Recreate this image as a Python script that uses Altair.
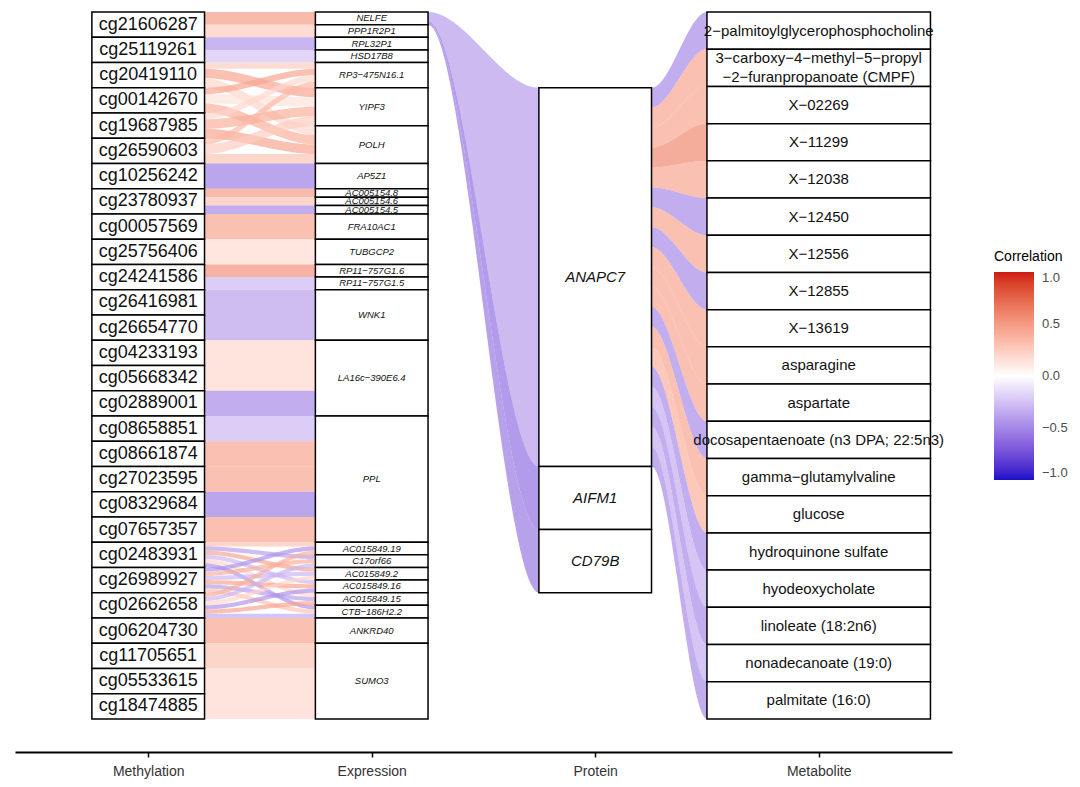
import altair as alt
import numpy as np
import pandas as pd

# ---------------- data ----------------
methylation = ["cg21606287", "cg25119261", "cg20419110", "cg00142670", "cg19687985",
               "cg26590603", "cg10256242", "cg23780937", "cg00057569", "cg25756406",
               "cg24241586", "cg26416981", "cg26654770", "cg04233193", "cg05668342",
               "cg02889001", "cg08658851", "cg08661874", "cg27023595", "cg08329684",
               "cg07657357", "cg02483931", "cg26989927", "cg02662658", "cg06204730",
               "cg11705651", "cg05533615", "cg18474885"]

expression = ["NELFE", "PPP1R2P1", "RPL32P1", "HSD17B8", "RP3−475N16.1", "YIPF3", "POLH",
              "AP5Z1", "AC005154.8", "AC005154.6", "AC005154.5", "FRA10AC1", "TUBGCP2",
              "RP11−757G1.6", "RP11−757G1.5", "WNK1", "LA16c−390E6.4", "PPL",
              "AC015849.19", "C17orf66", "AC015849.2", "AC015849.16", "AC015849.15",
              "CTB−186H2.2", "ANKRD40", "SUMO3"]

protein = ["ANAPC7", "AIFM1", "CD79B"]
protein_weight = [6, 1, 1]

metabolite = ["2−palmitoylglycerophosphocholine",
              "3−carboxy−4−methyl−5−propyl\n−2−furanpropanoate (CMPF)",
              "X−02269", "X−11299", "X−12038", "X−12450", "X−12556", "X−12855", "X−13619",
              "asparagine", "aspartate", "docosapentaenoate (n3 DPA; 22:5n3)",
              "gamma−glutamylvaline", "glucose", "hydroquinone sulfate", "hyodeoxycholate",
              "linoleate (18:2n6)", "nonadecanoate (19:0)", "palmitate (16:0)"]

axis_labels = ["Methylation", "Expression", "Protein", "Metabolite"]

# methylation -> expression links
me_source = ["cg21606287", "cg21606287", "cg25119261", "cg25119261",
             "cg20419110", "cg20419110", "cg20419110",
             "cg00142670", "cg00142670", "cg00142670",
             "cg19687985", "cg19687985", "cg19687985",
             "cg26590603", "cg26590603", "cg26590603",
             "cg10256242", "cg23780937", "cg23780937", "cg23780937",
             "cg00057569", "cg25756406", "cg24241586", "cg24241586",
             "cg26416981", "cg26654770",
             "cg04233193", "cg05668342", "cg02889001",
             "cg08658851", "cg08661874", "cg27023595", "cg08329684", "cg07657357",
             "cg02483931", "cg02483931", "cg02483931", "cg02483931", "cg02483931", "cg02483931",
             "cg26989927", "cg26989927", "cg26989927", "cg26989927", "cg26989927", "cg26989927",
             "cg02662658", "cg02662658", "cg02662658", "cg02662658", "cg02662658", "cg02662658",
             "cg06204730", "cg11705651", "cg05533615", "cg18474885"]
me_target = ["NELFE", "PPP1R2P1", "RPL32P1", "HSD17B8",
             "RP3−475N16.1", "YIPF3", "POLH",
             "RP3−475N16.1", "YIPF3", "POLH",
             "RP3−475N16.1", "YIPF3", "POLH",
             "RP3−475N16.1", "YIPF3", "POLH",
             "AP5Z1", "AC005154.8", "AC005154.6", "AC005154.5",
             "FRA10AC1", "TUBGCP2", "RP11−757G1.6", "RP11−757G1.5",
             "WNK1", "WNK1",
             "LA16c−390E6.4", "LA16c−390E6.4", "LA16c−390E6.4",
             "PPL", "PPL", "PPL", "PPL", "PPL",
             "AC015849.19", "C17orf66", "AC015849.2", "AC015849.16", "AC015849.15", "CTB−186H2.2",
             "AC015849.19", "C17orf66", "AC015849.2", "AC015849.16", "AC015849.15", "CTB−186H2.2",
             "AC015849.19", "C17orf66", "AC015849.2", "AC015849.16", "AC015849.15", "CTB−186H2.2",
             "ANKRD40", "SUMO3", "SUMO3", "SUMO3"]
me_weight = [0.5, 0.5, 0.5, 0.5,
             0.25, 0.375, 0.375,
             0.25, 0.375, 0.375,
             0.25, 0.375, 0.375,
             0.25, 0.375, 0.375,
             1, 1 / 3, 1 / 3, 1 / 3,
             1, 1, 0.5, 0.5,
             1, 1,
             1, 1, 1,
             1, 1, 1, 1, 1,
             1 / 6, 1 / 6, 1 / 6, 1 / 6, 1 / 6, 1 / 6,
             1 / 6, 1 / 6, 1 / 6, 1 / 6, 1 / 6, 1 / 6,
             1 / 6, 1 / 6, 1 / 6, 1 / 6, 1 / 6, 1 / 6,
             1, 1, 1, 1]
me_corr = [0.50, 0.25, -0.45, -0.25,
           0.25, 0.45, 0.20,
           0.45, 0.15, 0.40,
           0.20, 0.40, 0.45,
           0.35, 0.25, 0.30,
           -0.55, 0.50, 0.30, -0.50,
           0.45, 0.18, 0.55, -0.30,
           -0.40, -0.40,
           0.20, 0.20, -0.50,
           -0.30, 0.45, 0.45, -0.55, 0.45,
           0.30, -0.40, 0.45, -0.30, 0.20, -0.45,
           -0.45, 0.40, -0.30, 0.45, -0.40, 0.30,
           0.40, -0.30, 0.20, -0.45, 0.45, -0.35,
           0.45, 0.30, 0.20, 0.20]

# expression -> protein links (NELFE)
ep_source = ["NELFE", "NELFE", "NELFE"]
ep_target = ["ANAPC7", "AIFM1", "CD79B"]
ep_corr = [-0.42, -0.62, -0.58]

# protein -> metabolite links (ANAPC7)
pm_source = ["ANAPC7"] * 19
pm_target = metabolite
pm_corr = [-0.50, 0.45, 0.45, 0.60, 0.45, -0.50, 0.45, -0.50, 0.45, 0.45,
           0.45, -0.50, 0.45, 0.40, -0.50, -0.35, -0.50, -0.35, -0.50]

# ---------------- layout (in axis units) ----------------
TOTAL = len(methylation)
HW = 0.252           # half width of narrow strata
MET_HW = 0.5         # half width of metabolite strata
PROT_TOP = 3.0
PROT_SPAN = 20.0
LINE_GAP = 0.75      # line spacing of wrapped labels, in axis units

meth_pos = {m: (i, i + 1.0) for i, m in enumerate(methylation)}

expr_size = {e: 0.0 for e in expression}
for t, w in zip(me_target, me_weight):
    expr_size[t] += w
expr_pos, c = {}, 0.0
for e in expression:
    expr_pos[e] = (c, c + expr_size[e])
    c += expr_size[e]

prot_pos, c = {}, PROT_TOP
tot_w = sum(protein_weight)
for p, w in zip(protein, protein_weight):
    h = PROT_SPAN * w / tot_w
    prot_pos[p] = (c, c + h)
    c += h

mh = TOTAL / len(metabolite)
met_pos = {m: (j * mh, (j + 1) * mh) for j, m in enumerate(metabolite)}

# stacking of methylation -> expression links
links = list(zip(me_source, me_target, me_weight, me_corr))
left_iv, right_iv = {}, {}
src_off = {m: meth_pos[m][0] for m in methylation}
for k in sorted(range(len(links)), key=lambda k: (methylation.index(links[k][0]), expression.index(links[k][1]))):
    s, t, w, r = links[k]
    left_iv[k] = (src_off[s], src_off[s] + w)
    src_off[s] += w
tgt_off = {e: expr_pos[e][0] for e in expression}
for k in sorted(range(len(links)), key=lambda k: (expression.index(links[k][1]), methylation.index(links[k][0]))):
    s, t, w, r = links[k]
    right_iv[k] = (tgt_off[t], tgt_off[t] + w)
    tgt_off[t] += w

ribbons = []
for k, (s, t, w, r) in enumerate(links):
    ribbons.append((1 + HW, 2 - HW, left_iv[k], right_iv[k], r))

# expression -> protein: NELFE split proportionally to protein weight
for s, t, r in zip(ep_source, ep_target, ep_corr):
    a0, a1 = expr_pos[s]
    idx = protein.index(t)
    f0 = sum(protein_weight[:idx]) / tot_w
    f1 = sum(protein_weight[:idx + 1]) / tot_w
    ribbons.append((2 + HW, 3 - HW, (a0 + (a1 - a0) * f0, a0 + (a1 - a0) * f1), prot_pos[t], r))

# protein -> metabolite: ANAPC7 split equally
n_pm = len(pm_target)
for j, (s, t, r) in enumerate(zip(pm_source, pm_target, pm_corr)):
    a0, a1 = prot_pos[s]
    h = (a1 - a0) / n_pm
    ribbons.append((3 + HW, 4 - MET_HW, (a0 + j * h, a0 + (j + 1) * h), met_pos[t], r))

tt = np.linspace(0, 1, 41)
ss = tt * tt * (3 - 2 * tt)
rows = []
for fid, (x0, x1, (a0, a1), (b0, b1), r) in enumerate(ribbons):
    for t_, s_ in zip(tt, ss):
        rows.append({"id": fid, "x": x0 + (x1 - x0) * t_,
                     "top": a0 + (b0 - a0) * s_, "bot": a1 + (b1 - a1) * s_, "r": r})
flow_df = pd.DataFrame(rows)


def add_label(rows, x, a, b, text, kind):
    parts = text.split("\n")
    n = len(parts)
    for i, p in enumerate(parts):
        rows.append({"x": x, "y": (a + b) / 2 + (i - (n - 1) / 2) * LINE_GAP,
                     "text": p, "kind": kind})


box_rows, lab_rows = [], []
for m, (a, b) in meth_pos.items():
    box_rows.append({"x0": 1 - HW, "x1": 1 + HW, "y0": a, "y1": b})
    add_label(lab_rows, 1, a, b, m, "meth")
for e, (a, b) in expr_pos.items():
    box_rows.append({"x0": 2 - HW, "x1": 2 + HW, "y0": a, "y1": b})
    add_label(lab_rows, 2, a, b, e, "expr")
for p, (a, b) in prot_pos.items():
    box_rows.append({"x0": 3 - HW, "x1": 3 + HW, "y0": a, "y1": b})
    add_label(lab_rows, 3, a, b, p, "prot")
for m, (a, b) in met_pos.items():
    box_rows.append({"x0": 4 - MET_HW, "x1": 4 + MET_HW, "y0": a, "y1": b})
    add_label(lab_rows, 4, a, b, m, "met")
box_df = pd.DataFrame(box_rows)
lab_df = pd.DataFrame(lab_rows)

# ---------------- chart ----------------
FONT = "Liberation Sans"
x_scale = alt.Scale(domain=[0.404, 4.5964], nice=False, zero=False)
y_scale = alt.Scale(domain=[-0.08, 29.31], reverse=True, nice=False, zero=False)
label_expr = "[" + ",".join("'%s'" % s for s in axis_labels) + "][datum.value - 1]"
x_axis = alt.Axis(values=[1, 2, 3, 4], labelExpr=label_expr, title=None, grid=False,
                  domainColor="black", domainWidth=2, tickColor="black", tickWidth=1.5,
                  tickSize=5, labelFontSize=14, labelColor="#333333", labelFont=FONT,
                  labelPadding=7, labelFlush=False)

color_scale = alt.Scale(domain=[-1, 0, 1], range=["#1c0fc9", "#ffffff", "#cf1b12"],
                        interpolate="lab")

flows = alt.Chart(flow_df).mark_area(fillOpacity=0.68, strokeWidth=0).encode(
    x=alt.X("x:Q", scale=x_scale, axis=x_axis),
    y=alt.Y("top:Q", scale=y_scale, axis=None, stack=None),
    y2="bot:Q",
    detail="id:N",
    color=alt.Color("r:Q", scale=color_scale,
                    legend=alt.Legend(title="Correlation", orient="none", direction="vertical",
                                      legendX=979, legendY=240, padding=0,
                                      gradientLength=208, gradientThickness=40,
                                      gradientStrokeWidth=0, values=[-1, -0.5, 0, 0.5, 1],
                                      format=".1f", labelFontSize=13, labelColor="#4d4d4d",
                                      labelFont=FONT, labelOffset=8, titleFontSize=14,
                                      titleFontWeight="normal", titleColor="black",
                                      titleFont=FONT, titlePadding=8)),
)

boxes = alt.Chart(box_df).mark_rect(fill="white", stroke="black", strokeWidth=1.5).encode(
    x=alt.X("x0:Q", scale=x_scale, axis=x_axis),
    x2="x1:Q",
    y=alt.Y("y0:Q", scale=y_scale, axis=None),
    y2="y1:Q",
)


def labels(kind, size, style="normal"):
    return alt.Chart(lab_df[lab_df.kind == kind]).mark_text(
        font=FONT, fontSize=size, fontStyle=style, color="#111111",
        align="center", baseline="middle",
    ).encode(
        x=alt.X("x:Q", scale=x_scale, axis=x_axis),
        y=alt.Y("y:Q", scale=y_scale, axis=None),
        text="text:N",
    )


chart = alt.layer(
    flows, boxes,
    labels("meth", 18), labels("expr", 9.5, "italic"),
    labels("prot", 15, "italic"), labels("met", 15),
).properties(
    width=937, height=742,
    autosize=alt.AutoSizeParams(type="none"),
    padding={"left": 7, "top": 2, "right": 120, "bottom": 35},
).configure_view(strokeWidth=0)

chart.save("out.html", embed_options={"renderer": "svg", "actions": False})
